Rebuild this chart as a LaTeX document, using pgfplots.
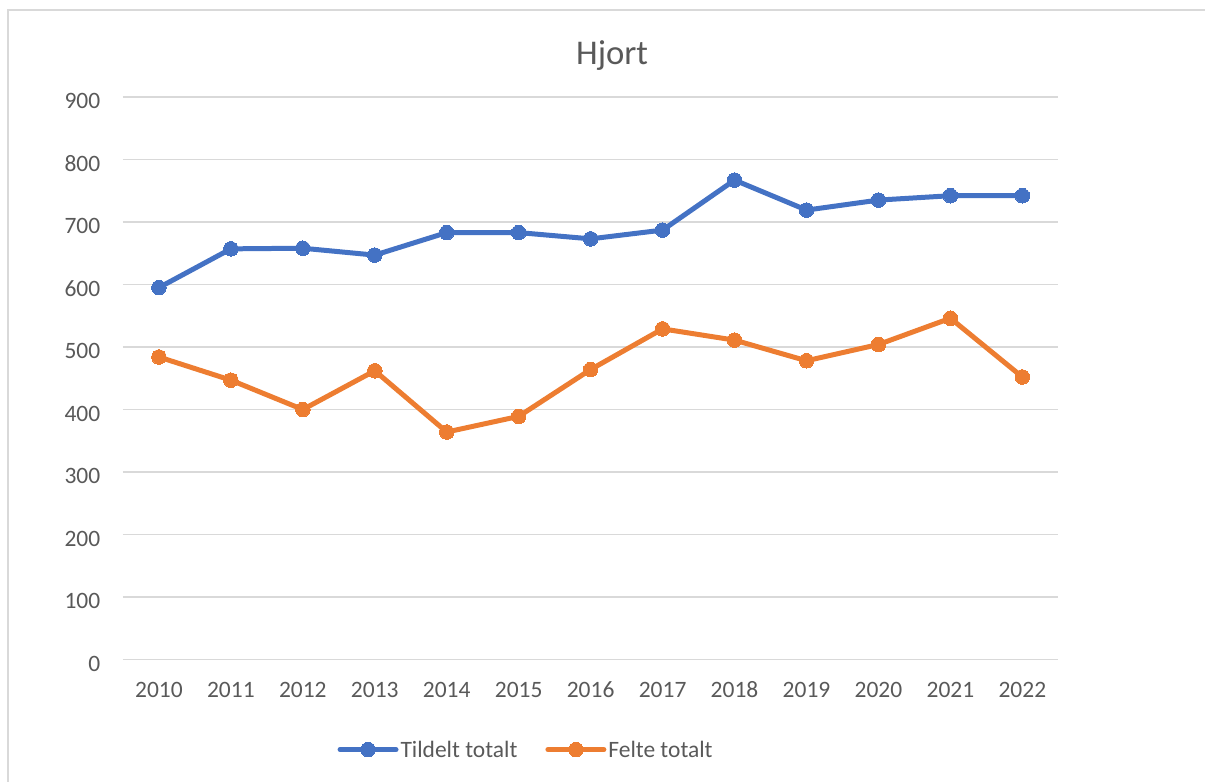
\documentclass[border=0pt]{standalone}
\usepackage{fontspec}
\setmainfont{Carlito}
\usepackage{pgfplots}
\pgfplotsset{compat=1.18}
\definecolor{cblue}{HTML}{4472C4}
\definecolor{corange}{HTML}{ED7D31}
\definecolor{gridgray}{HTML}{D9D9D9}
\definecolor{txtgray}{HTML}{595959}
\definecolor{framegray}{HTML}{D9D9D9}
\begin{document}
\begin{tikzpicture}
\begin{axis}[
  at={(0,0)}, anchor=south west,
  scale only axis,
  width=936bp, height=563bp,
  xmin=-0.5, xmax=12.5,
  ymin=0, ymax=900,
  xtick={0,...,12},
  xticklabels={2010,2011,2012,2013,2014,2015,2016,2017,2018,2019,2020,2021,2022},
  ytick={0,100,...,900},
  ymajorgrids,
  major grid style={color=gridgray, line width=1.3bp},
  axis line style={draw=none},
  major tick length=0pt,
  tick style={draw=none},
  /pgf/number format/assume math mode=true,
  ticklabel style={font=\fontsize{23.5bp}{28bp}\selectfont, text=txtgray},
  xticklabel style={anchor=north, inner sep=0pt, yshift=-22bp},
  yticklabel style={anchor=east, inner sep=0pt, xshift=-22.5bp, yshift=-4bp},
  title={Hjort},
  title style={at={(rel axis cs:0.523,1.0568)}, anchor=base, inner sep=0pt, yshift=-6pt,
    font=\fontsize{34.7bp}{40bp}\selectfont, text=txtgray},
  legend columns=2,
  legend style={at={(rel axis cs:0.431,-0.16)}, anchor=center, draw=none, fill=none,
    inner sep=0pt, font=\fontsize{23.5bp}{28bp}\selectfont, text=txtgray,
    nodes={inner xsep=2bp, inner ysep=0pt},
    /tikz/every even column/.append style={column sep=26bp}},
  legend cell align=left,
  legend image code/.code={%
    \draw[#1, mark repeat=2, mark phase=2] plot coordinates {(0bp,0bp) (28bp,0bp) (56bp,0bp)};},
  every axis plot/.append style={line width=5bp, line join=round, line cap=round,
    mark=*, mark size=7.3bp},
]
\addplot[color=cblue, mark options={solid, fill=cblue, line width=0pt}] coordinates {
  (0,595) (1,657) (2,658) (3,647) (4,683) (5,683) (6,673) (7,687)
  (8,767) (9,719) (10,735) (11,742) (12,742)};
\addlegendentry{Tildelt totalt}
\addplot[color=corange, mark options={solid, fill=corange, line width=0pt}] coordinates {
  (0,484) (1,447) (2,400) (3,462) (4,364) (5,389) (6,464) (7,529)
  (8,511) (9,478) (10,504) (11,546) (12,452)};
\addlegendentry{Felte totalt}
\end{axis}
\draw[color=framegray, line width=1.5bp] (-115bp,-122bp) -- (-115bp,650bp) -- (1083bp,650bp);
\path[use as bounding box] (-123bp,-122bp) rectangle (1083bp,660bp);
\end{tikzpicture}
\end{document}
